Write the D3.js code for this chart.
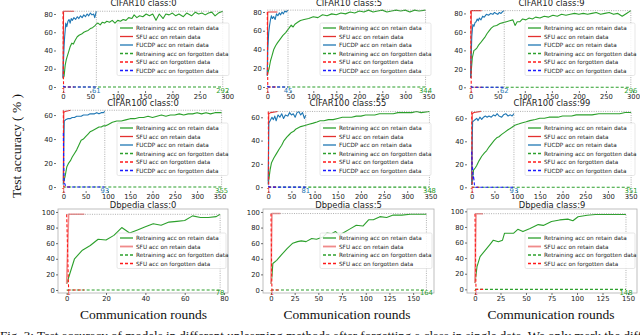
<!DOCTYPE html>
<html>
<head>
<meta charset="utf-8">
<script src="https://cdn.jsdelivr.net/npm/d3@7"></script>
<style>
  body { margin: 0; background: #fff; }
  svg { display: block; }
</style>
</head>
<body>
<div id="chart"></div>
<script>
// ---- data: [round, accuracy %] ----
const c10_0_retrain = [[0,9],[2,12],[4,24],[6,30],[8,34],[10,38],[13,44],[16,48],[19,47],[22,51],[26,55],[30,57],[34,58],[38,60],[42,61],[46,62],[50,64],[54,65],[58,67],[61,69],[64,70],[68,68],[72,71],[76,70],[80,72],[85,71],[90,73],[95,70],[100,73],[105,72],[110,74],[115,73],[120,76],[126,75],[130,79],[135,76],[140,78],[146,77],[152,80],[158,78],[164,80],[170,73],[176,80],[183,75],[188,80],[194,79],[200,81],[206,78],[212,80],[220,77],[226,81],[235,78],[242,82],[248,80],[254,81],[260,79],[266,81],[272,82],[278,78],[284,81],[292,83]];
const c10_0_fucdp = [[0,10],[1,30],[2,45],[3,55],[4,62],[5,70],[7,66],[9,72],[11,74],[13,70],[15,75],[17,73],[20,76],[23,74],[26,77],[29,75],[32,78],[35,76],[38,79],[41,77],[44,80],[47,78],[50,81],[53,79],[56,80],[58,76],[61,83]];
const c10_0_sfu = [[0,10],[1,83],[20,83]];
const c10_0_fucdpF = [[0,1],[3,0],[61,0]];
const c10_0_sfuF = [[0,83],[1,0],[20,0]];
const c10_0_retrainF = [[0,0],[292,0]];

const c10_5_retrain = [[0,13],[4,20],[7,28],[10,33],[14,40],[18,44],[22,47],[28,51],[34,55],[40,58],[46,62],[52,66],[56,64],[60,67],[66,69],[72,71],[80,72],[90,73],[100,75],[110,74],[120,77],[130,76],[140,78],[150,77],[160,79],[170,78],[180,80],[190,79],[200,81],[210,80],[220,82],[230,80],[240,81],[250,82],[260,80],[270,81],[280,82],[290,81],[300,82],[310,80],[320,82],[330,81],[344,82]];
const c10_5_fucdp = [[0,12],[1,39],[3,58],[5,66],[7,72],[9,76],[11,73],[14,75],[17,72],[20,78],[23,76],[26,79],[29,77],[32,80],[35,78],[38,81],[41,80],[45,82]];
const c10_5_sfu = [[0,12],[1,80],[22,80]];
const c10_5_fucdpF = [[0,1],[3,0],[45,0]];
const c10_5_sfuF = [[0,80],[1,0],[22,0]];
const c10_5_retrainF = [[0,0],[344,0]];

const c10_9_retrain = [[0,11],[3,32],[6,40],[9,41],[12,43],[15,46],[18,48],[22,51],[26,54],[30,58],[34,61],[38,64],[42,66],[48,67],[54,69],[60,70],[66,71],[72,72],[78,73],[82,67],[86,71],[91,71],[96,74],[102,73],[108,75],[114,74],[120,76],[128,75],[136,77],[144,76],[152,78],[160,77],[168,79],[176,78],[184,79],[192,80],[200,79],[208,80],[216,79],[224,80],[232,81],[240,79],[248,80],[256,81],[264,79],[272,80],[280,77],[288,80],[296,83]];
const c10_9_fucdp = [[0,10],[1,35],[2,55],[3,62],[4,68],[6,66],[8,70],[10,71],[12,74],[14,72],[16,75],[19,73],[22,77],[25,76],[29,79],[33,78],[37,80],[41,79],[44,81],[47,80],[50,79],[53,81],[56,80],[59,82],[62,83]];
const c10_9_sfu = [[0,10],[1,83],[20,83]];
const c10_9_fucdpF = [[0,1],[3,0],[62,0]];
const c10_9_sfuF = [[0,83],[1,0],[20,0]];
const c10_9_retrainF = [[0,0],[296,0]];

const c100_0_retrain = [[0,3],[4,9],[8,17],[12,20],[16,22],[20,25],[25,28],[30,31],[35,35],[40,39],[45,40],[50,42],[55,44],[60,46],[65,47],[70,48],[75,49],[80,50],[85,50],[90,51],[95,51],[100,52],[110,54],[120,55],[130,55],[140,56],[150,57],[160,57],[170,58],[180,58],[190,59],[200,58],[210,59],[220,60],[230,59],[240,60],[250,60],[260,61],[270,60],[280,61],[290,61],[300,62],[310,61],[320,62],[330,61],[340,62],[355,62]];
const c100_0_fucdp = [[0,2],[1,30],[2,55],[5,56],[10,57],[15,57],[20,58],[25,58],[30,59],[35,59],[40,59],[45,60],[50,60],[55,60],[60,61],[65,61],[70,61],[75,62],[80,61],[85,62],[90,62],[93,63]];
const c100_0_sfu = [[0,5],[1,62],[4,63],[16,64]];
const c100_0_fucdpF = [[0,45],[1,20],[2,4],[5,1],[8,0],[93,0]];
const c100_0_sfuF = [[0,64],[1,0],[16,0]];
const c100_0_retrainF = [[0,0],[355,0]];

const c100_55_retrain = [[0,3],[4,15],[7,21],[12,25],[18,29],[24,33],[29,36],[34,40],[40,43],[45,45],[50,47],[55,48],[60,50],[65,51],[70,52],[79,53],[88,54],[97,55],[105,56],[112,57],[120,57],[130,58],[140,58],[150,59],[160,60],[170,60],[180,60],[190,61],[200,61],[210,62],[220,62],[230,62],[240,63],[250,63],[260,63],[270,63],[280,64],[290,64],[300,64],[310,64],[320,65],[330,64],[348,65]];
const c100_55_fucdp = [[0,2],[1,55],[4,57],[8,60],[11,58],[14,61],[17,57],[21,62],[25,60],[29,63],[33,59],[37,62],[42,61],[46,64],[50,62],[54,63],[58,60],[62,64],[66,65],[70,62],[74,64],[78,59],[81,62]];
const c100_55_sfu = [[0,5],[1,63],[5,64],[20,65]];
const c100_55_fucdpF = [[0,1],[3,0],[81,0]];
const c100_55_sfuF = [[0,65],[1,0],[20,0]];
const c100_55_retrainF = [[0,0],[348,0]];

const c100_99_retrain = [[0,2],[4,15],[8,17],[11,19],[16,23],[22,27],[28,30],[33,32],[38,35],[44,38],[50,41],[55,43],[60,44],[66,46],[73,48],[80,50],[88,52],[95,54],[103,55],[110,56],[120,57],[128,58],[140,59],[150,60],[160,60],[170,61],[180,61],[190,61],[200,62],[210,62],[220,62],[230,63],[240,63],[253,63],[265,63],[280,64],[290,64],[300,64],[313,64],[326,64],[338,65],[351,65]];
const c100_99_fucdp = [[0,2],[1,40],[2,57],[5,58],[8,59],[11,60],[14,58],[18,61],[22,59],[26,61],[30,62],[34,61],[38,62],[43,61],[48,63],[52,62],[56,64],[60,62],[66,61],[70,63],[75,64],[80,62],[85,63],[89,62],[93,64]];
const c100_99_sfu = [[0,5],[1,64],[5,65],[20,66]];
const c100_99_fucdpF = [[0,31],[1,15],[2,17],[3,8],[4,10],[6,2],[8,0],[93,0]];
const c100_99_sfuF = [[0,66],[1,0],[20,0]];
const c100_99_retrainF = [[0,0],[351,0]];

const db_0_retrain = [[0,8],[4,40],[8,51],[12,57],[16,65],[20,64],[24,70],[28,80],[32,73],[36,77],[40,81],[44,85],[48,83],[52,87],[56,88],[60,89],[64,95],[68,93],[72,93],[76,94],[78,97]];
const db_0_sfu = [[0,8],[1,97],[9,97]];
const db_0_sfuF = [[0,97],[1,0],[9,0]];
const db_0_retrainF = [[0,0],[78,0]];

const db_5_retrain = [[0,8],[1,17],[2,34],[6,38],[11,45],[17,53],[23,60],[28,62],[32,63],[37,62],[43,66],[48,65],[55,68],[59,73],[64,72],[68,75],[72,70],[76,73],[83,78],[90,83],[97,82],[103,90],[108,90],[115,94],[122,93],[129,96],[138,96],[147,97],[155,97],[164,97]];
const db_5_sfu = [[0,8],[1,98],[10,98]];
const db_5_sfuF = [[0,98],[1,0],[10,0]];
const db_5_retrainF = [[0,0],[164,0]];

const db_9_retrain = [[0,8],[2,29],[5,42],[10,50],[15,58],[18,63],[23,61],[27,63],[29,72],[34,72],[38,72],[42,77],[47,74],[54,78],[62,83],[67,82],[75,87],[83,89],[91,90],[96,88],[101,93],[110,95],[118,96],[126,96],[137,96],[148,96]];
const db_9_sfu = [[0,8],[1,97],[8,97]];
const db_9_sfuF = [[0,97],[1,0],[8,0]];
const db_9_retrainF = [[0,0],[148,0]];

const titles = ["CIFAR10 class:0","CIFAR10 class:5","CIFAR10 class:9",
                "CIFAR100 class:0","CIFAR100 class:55","CIFAR100 class:99",
                "Dbpedia class:0","Dbpedia class:5","Dbpedia class:9"];
const xTicks = [d3.range(0,301,50), d3.range(0,351,50), d3.range(0,301,50),
                d3.range(0,351,50), d3.range(0,351,50), d3.range(0,351,50),
                d3.range(0,81,20), d3.range(0,151,25), d3.range(0,151,25)];
const yTicks = [[0,20,40,60,80],[0,20,40,60,80],[0,20,40,60,80],
                [0,20,40,60],[0,20,40,60],[0,20,40,60],
                [0,20,40,60,80,100],[0,20,40,60,80,100],[0,20,40,60,80,100]];
const legendLabels = {
  retrain: "Retraining acc on retain data",
  sfu: "SFU acc on retain data",
  fucdp: "FUCDP acc on retain data",
  retrainF: "Retraining acc on forgotten data",
  sfuF: "SFU acc on forgotten data",
  fucdpF: "FUCDP acc on forgotten data"
};

const seriesData = [
  {retrain: c10_0_retrain, sfu: c10_0_sfu, fucdp: c10_0_fucdp, retrainF: c10_0_retrainF, sfuF: c10_0_sfuF, fucdpF: c10_0_fucdpF},
  {retrain: c10_5_retrain, sfu: c10_5_sfu, fucdp: c10_5_fucdp, retrainF: c10_5_retrainF, sfuF: c10_5_sfuF, fucdpF: c10_5_fucdpF},
  {retrain: c10_9_retrain, sfu: c10_9_sfu, fucdp: c10_9_fucdp, retrainF: c10_9_retrainF, sfuF: c10_9_sfuF, fucdpF: c10_9_fucdpF},
  {retrain: c100_0_retrain, sfu: c100_0_sfu, fucdp: c100_0_fucdp, retrainF: c100_0_retrainF, sfuF: c100_0_sfuF, fucdpF: c100_0_fucdpF},
  {retrain: c100_55_retrain, sfu: c100_55_sfu, fucdp: c100_55_fucdp, retrainF: c100_55_retrainF, sfuF: c100_55_sfuF, fucdpF: c100_55_fucdpF},
  {retrain: c100_99_retrain, sfu: c100_99_sfu, fucdp: c100_99_fucdp, retrainF: c100_99_retrainF, sfuF: c100_99_sfuF, fucdpF: c100_99_fucdpF},
  {retrain: db_0_retrain, sfu: db_0_sfu, retrainF: db_0_retrainF, sfuF: db_0_sfuF},
  {retrain: db_5_retrain, sfu: db_5_sfu, retrainF: db_5_retrainF, sfuF: db_5_sfuF},
  {retrain: db_9_retrain, sfu: db_9_sfu, retrainF: db_9_retrainF, sfuF: db_9_sfuF}
];

// ---- layout: axes box [left, top, right, bottom], x/y domains, legend x ----
const layout = [
  {box: [56, 7.5, 231, 91],   xd: [-12.8, 307.1], yd: [-4.4, 87.1],  legX: 117},
  {box: [265, 7.5, 433, 91],  xd: [-5, 360.2],    yd: [-4.3, 84.8],  legX: 320},
  {box: [466, 7.5, 637, 91],  xd: [-8.7, 307.4],  yd: [-4.0, 86.4],  legX: 525},
  {box: [56, 107.5, 230, 191],  xd: [-16.4, 373.8], yd: [-3.3, 66.3], legX: 117},
  {box: [263, 107.5, 433, 191], xd: [-11.4, 355.7], yd: [-3.3, 68.4], legX: 320},
  {box: [467, 107.5, 637, 191], xd: [-10.4, 364],   yd: [-3.2, 69.4], legX: 525},
  {box: [58, 209, 228, 293],  xd: [-4.4, 82],     yd: [-3.85, 103.8], legX: 117, frame: true},
  {box: [263, 209, 434, 293], xd: [-8.4, 172],    yd: [-3.85, 103.8], legX: 320, frame: true},
  {box: [467, 209, 637, 293], xd: [-7.8, 158.8],  yd: [-4.7, 103],    legX: 525, frame: true}
];

const style = {
  retrain:  {stroke: "#2ca02c", width: 1.1},
  sfu:      {stroke: "#e4312f", width: 1.1},
  fucdp:    {stroke: "#1f77b4", width: 1.1},
  retrainF: {stroke: "#2ca02c", width: 1.1, dash: "3,2"},
  sfuF:     {stroke: "#ff1a1a", width: 1.1, dash: "3,2"},
  fucdpF:   {stroke: "#1a1aff", width: 1.1, dash: "3,2"}
};
const sfuLight = {stroke: "#f08a8a", width: 1.6};
const order = ["retrain", "sfu", "fucdp", "retrainF", "sfuF", "fucdpF"];

const width = 640, height = 335;
const svg = d3.select("#chart").append("svg")
  .attr("width", width).attr("height", height)
  .style("font-family", "'DejaVu Sans', sans-serif");

layout.forEach((p, i) => {
  const [l, t, r, b] = p.box;
  const data = seriesData[i];
  const x = d3.scaleLinear().domain(p.xd).range([l, r]);
  const y = d3.scaleLinear().domain(p.yd).range([b, t]);
  const g = svg.append("g");

  if (p.frame) {
    g.append("rect").attr("x", l).attr("y", t).attr("width", r - l).attr("height", b - t)
      .attr("fill", "none").attr("stroke", "#b0b0b0").attr("stroke-width", 0.8);
  }

  // axes
  const yAxis = g.append("g").attr("transform", `translate(${l},0)`)
    .call(d3.axisLeft(y).tickValues(yTicks[i]).tickSize(2).tickPadding(1.2));
  const xAxis = g.append("g").attr("transform", `translate(0,${b})`)
    .call(d3.axisBottom(x).tickValues(xTicks[i]).tickSize(2).tickPadding(0.8));
  [yAxis, xAxis].forEach(a => {
    a.select(".domain").remove();
    a.selectAll("line").attr("stroke", "#333").attr("stroke-width", 0.7);
    a.selectAll("text").attr("fill", "#222").style("font-size", "6.8px")
      .style("font-family", "'DejaVu Sans', sans-serif");
  });

  const line = d3.line().x(d => x(d[0])).y(d => y(d[1]));
  const keys = order.filter(k => data[k]);

  keys.forEach(k => {
    const s = (k === "sfu" && p.frame) ? sfuLight : style[k];
    g.append("path").datum(data[k]).attr("d", line)
      .attr("fill", "none").attr("stroke", s.stroke).attr("stroke-width", s.width)
      .attr("stroke-dasharray", s.dash || null).attr("stroke-linejoin", "round");
  });

  // dotted reference lines
  const retrainEnd = data.retrain[data.retrain.length - 1][0];
  const topVal = d3.max(keys.filter(k => !k.endsWith("F")), k => d3.max(data[k], d => d[1]));
  const refs = g.append("g").attr("stroke", "#9a9a9a").attr("stroke-width", 0.8)
    .attr("stroke-dasharray", "1,1.3").attr("fill", "none");
  refs.append("line").attr("x1", x(0)).attr("x2", x(retrainEnd)).attr("y1", y(topVal)).attr("y2", y(topVal));
  refs.append("line").attr("x1", x(retrainEnd)).attr("x2", x(retrainEnd)).attr("y1", y(0)).attr("y2", y(topVal));
  if (data.fucdp) {
    const fEnd = data.fucdp[data.fucdp.length - 1][0];
    refs.append("line").attr("x1", x(fEnd)).attr("x2", x(fEnd)).attr("y1", y(0)).attr("y2", y(topVal));
  }

  // round annotations
  const marks = [{v: data.sfu[1][0], c: "#e4312f"}, {v: retrainEnd, c: "#2ca02c"}];
  if (data.fucdp) marks.push({v: data.fucdp[data.fucdp.length - 1][0], c: "#1f77b4"});
  marks.forEach(m => {
    g.append("text").attr("x", x(m.v)).attr("y", b + 2.2).attr("text-anchor", "middle")
      .attr("fill", m.c).style("font-size", "6.8px").text(m.v);
  });

  // title
  g.append("text").attr("x", (l + r) / 2).attr("y", t - 1.5).attr("text-anchor", "middle")
    .attr("fill", "#222").style("font-size", "8.4px").text(titles[i]);

  // legend
  const rowH = 8.5;
  const legTop = p.frame ? 233 + (t - 209) : t + 15.5;
  const lg = g.append("g").attr("transform", `translate(${p.legX},${legTop})`);
  lg.append("rect").attr("width", r - 2 - p.legX).attr("height", keys.length * rowH + 1.5)
    .attr("rx", 1.5).attr("fill", "#fff").attr("fill-opacity", 0.85)
    .attr("stroke", "#d6d6d6").attr("stroke-width", 0.6);
  keys.forEach((k, j) => {
    const s = (k === "sfu" && p.frame) ? sfuLight : style[k];
    const yy = 5 + j * rowH;
    lg.append("line").attr("x1", 3).attr("x2", 16).attr("y1", yy).attr("y2", yy)
      .attr("stroke", s.stroke).attr("stroke-width", s.width + 0.2)
      .attr("stroke-dasharray", s.dash || null);
    lg.append("text").attr("x", 19).attr("y", yy + 2).attr("fill", "#222")
      .style("font-size", "5.7px").text(legendLabels[k]);
  });
});

// shared labels
svg.append("text").attr("transform", "translate(21,146) rotate(-90)")
  .attr("text-anchor", "middle").style("font-family", "'Liberation Serif', serif")
  .style("font-size", "13.5px").attr("fill", "#111").text("Test accuracy ( % )");
[143.5, 347, 551].forEach(cx => {
  svg.append("text").attr("x", cx).attr("y", 319).attr("text-anchor", "middle")
    .style("font-family", "'Liberation Serif', serif").style("font-size", "13.5px")
    .attr("fill", "#111").text("Communication rounds");
});
svg.append("text").attr("x", 0).attr("y", 340)
  .style("font-family", "'Liberation Serif', serif").style("font-size", "13px").attr("fill", "#111")
  .text("Fig. 3: Test accuracy of models in different unlearning methods after forgetting a class in single data. We only mark the differ");
</script>
</body>
</html>
